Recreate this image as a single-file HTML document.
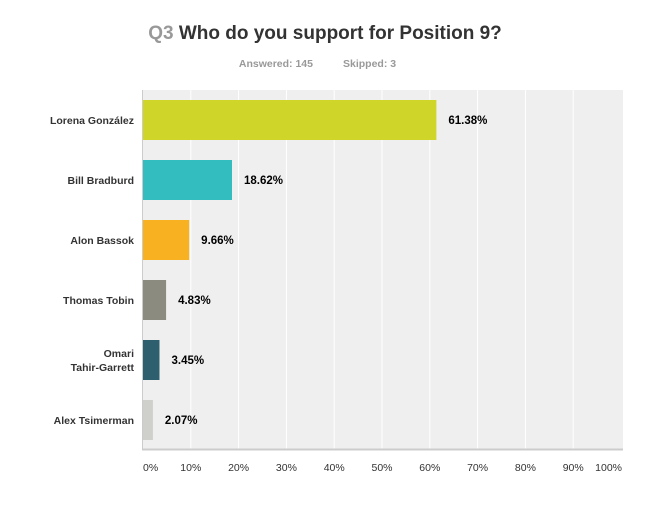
<!DOCTYPE html>
<html><head><meta charset="utf-8"><style>
body{margin:0;background:#fff;font-family:"Liberation Sans",Arial,sans-serif}
</style></head><body>
<svg width="650" height="523" xmlns="http://www.w3.org/2000/svg" font-family="Liberation Sans, Arial, sans-serif">
<text x="325" y="39" text-anchor="middle" font-size="19" font-weight="bold" fill="#333"><tspan fill="#999">Q3</tspan> Who do you support for Position 9?</text>
<text x="313" y="67" text-anchor="end" font-size="10.5" font-weight="bold" fill="#999">Answered: 145</text>
<text x="343" y="67" font-size="10.5" font-weight="bold" fill="#999">Skipped: 3</text>
<rect x="143" y="90" width="480" height="359" fill="#efefef"/>
<g id="grid"></g>
<line x1="142.5" y1="90" x2="142.5" y2="450" stroke="#ccc"/>
<line x1="142" y1="449.5" x2="623" y2="449.5" stroke="#ccc" stroke-width="2"/>
<g id="bars"></g>
<g id="ticks"></g>
</svg>
<script>
const categories=["Lorena González","Bill Bradburd","Alon Bassok","Thomas Tobin","Omari|Tahir-Garrett","Alex Tsimerman"];
const values=[61.38,18.62,9.66,4.83,3.45,2.07];
const colors=["#d0d52a","#33bdbf","#f8b121","#8b8b80","#2d5f6e","#cfcfcb"];
const tickValues=[0,10,20,30,40,50,60,70,80,90,100];
const NS="http://www.w3.org/2000/svg";
const x0=143,plotW=478;
const xs=v=>x0+v/100*plotW;
const yb=i=>100+i*60;
function mk(t,a,p){const e=document.createElementNS(NS,t);for(const k in a)e.setAttribute(k,a[k]);p.appendChild(e);return e;}
const grid=document.getElementById('grid'),bars=document.getElementById('bars'),ticks=document.getElementById('ticks');
tickValues.forEach(v=>{
 if(v>0&&v<100){const l=mk('line',{x1:xs(v),y1:90,x2:xs(v),y2:449,stroke:'#fff','stroke-width':1},grid);
 
 }
 const t=mk('text',{x:v===0?143:v===100?622:xs(v),y:471,'font-size':10.5,fill:'#333','text-anchor':v===0?'start':v===100?'end':'middle'},ticks);
 t.textContent=v+'%';
 
 
});
values.forEach((v,i)=>{
 const r=mk('rect',{x:x0,y:yb(i),width:xs(v)-x0,height:40,fill:colors[i]},bars);
 
 
 const t=mk('text',{x:xs(v)+12,y:yb(i)+24,'font-size':11.5,'font-weight':'bold',fill:'#000'},bars);
 t.textContent=v.toFixed(2)+'%';
 
 
 const parts=categories[i].split('|');
 const lab=mk('text',{x:134,'text-anchor':'end','font-size':10.5,'font-weight':'bold',fill:'#333'},bars);
 
 
 parts.forEach((p,j)=>{const s=mk('tspan',{x:134,y:yb(i)+24-(parts.length-1)*7+j*14},lab);s.textContent=p;});
});
</script>
</body></html>
